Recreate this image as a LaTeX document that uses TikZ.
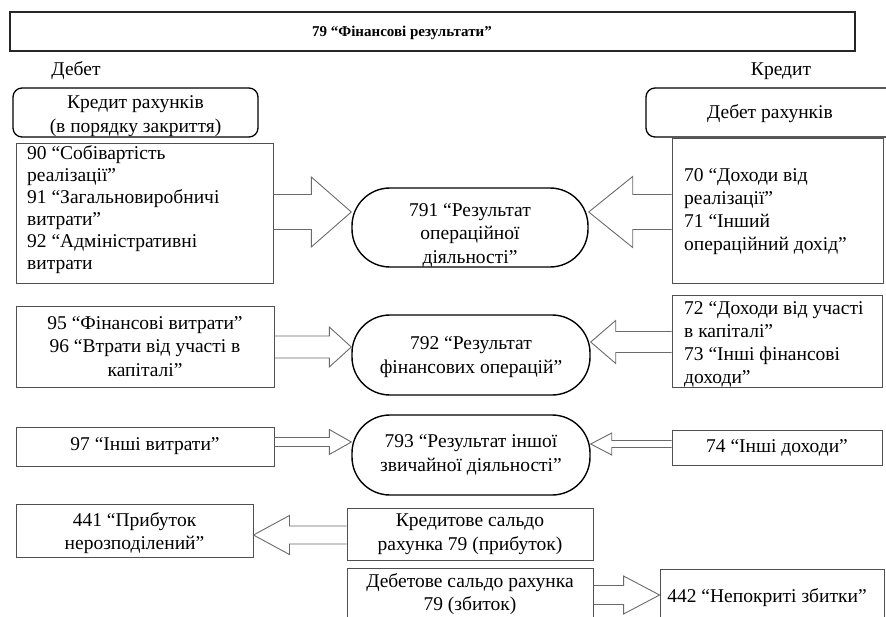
\documentclass[tikz,border=0pt]{standalone}
\usepackage{fontspec}
\setmainfont{Liberation Serif}
\usetikzlibrary{calc}
\definecolor{boxgray}{HTML}{505050}
\definecolor{arrgray}{HTML}{6A6A6A}
\tikzset{
  plainbox/.style={draw=boxgray, line width=0.9pt, rectangle, inner sep=0pt, align=center},
  roundbox/.style={draw=black, line width=1.3pt, rounded corners=9pt, inner sep=0pt, align=center},
  stadium/.style={draw=black, line width=1.4pt, rounded corners=38pt, inner sep=0pt, align=center},
  arrowline/.style={draw=arrgray, line width=0.9pt, line join=miter},
  txt/.style={inner sep=0pt, align=left, anchor=west},
  plaintxt/.style={inner sep=0pt, align=center},
}
% #1 tail point, #2 tip point, #3 shaft half width, #4 head half width, #5 signed head length
\newcommand{\blockarrow}[5]{%
  \draw[arrowline] let \p1=#1, \p2=#2 in
    ({\x1},{\y2+#3pt}) -- ({\x2-(#5pt)},{\y2+#3pt}) -- ({\x2-(#5pt)},{\y2+#4pt}) -- (\x2,\y2)
    -- ({\x2-(#5pt)},{\y2-#4pt}) -- ({\x2-(#5pt)},{\y2-#3pt}) -- ({\x1},{\y2-#3pt});
}
\begin{document}
\begin{tikzpicture}[x=1pt, y=-1pt, font=\fontsize{19.5}{23.5}\selectfont]
\useasboundingbox (0,0) rectangle (886,616);

% title
\node[plainbox, line width=1.5pt, draw=black!85, minimum width=845pt, minimum height=39pt] (title) at (432.5,31.5) {};
\node[plaintxt, font=\fontsize{15}{18}\selectfont\bfseries] (titlet) at (402,32.5) {79 “Фінансові результати”};

\node[plaintxt] (debet) at (76,71) {Дебет};
\node[plaintxt] (kredyt) at (781,71) {Кредит};

% header boxes
\node[roundbox, minimum width=245pt, minimum height=49pt] (hl) at (135.5,112.5) {};
\node[plaintxt] (hlt) at (135.5,116) {Кредит рахунків\\(в порядку закриття)};
\node[roundbox, minimum width=249pt, minimum height=49pt] (hr) at (770.5,112.5) {};
\node[plaintxt] (hrt) at (770,114) {Дебет рахунків};

% row 1
\node[plainbox, minimum width=257pt, minimum height=140pt] (b90) at (144.5,213) {};
\node[txt, font=\fontsize{19.5}{22}\selectfont] (b90t) at (27,210) {90 “Собівартість\\реалізації”\\91 “Загальновиробничі\\витрати”\\92 “Адміністративні\\витрати};
\node[plainbox, minimum width=211pt, minimum height=145pt] (b70) at (777.5,210.5) {};
\node[txt, font=\fontsize{19.5}{23}\selectfont] (b70t) at (684,212) {70 “Доходи від\\реалізації”\\71 “Інший\\операційний дохід”};
\node[stadium, minimum width=236pt, minimum height=79pt] (s791) at (470,227.5) {};
\node[plaintxt] (s791t) at (470,235) {791 “Результат\\операційної\\діяльності”};

% row 2
\node[plainbox, minimum width=258pt, minimum height=81pt] (b95) at (145,346.5) {95 “Фінансові витрати”\\96 “Втрати від участі в\\капіталі”};
\node[plainbox, minimum width=210pt, minimum height=92pt] (b72) at (777,341) {};
\node[txt, font=\fontsize{19.5}{23}\selectfont] (b72t) at (684,344) {72 “Доходи від участі\\в капіталі”\\73 “Інші фінансові\\доходи”};
\node[stadium, minimum width=238pt, minimum height=80pt] (s792) at (471,355) {};
\node[plaintxt] (s792t) at (471,357) {792 “Результат\\фінансових операцій”};

% row 3
\node[plainbox, minimum width=258pt, minimum height=39pt] (b97) at (145,446.5) {97 “Інші витрати”};
\node[plainbox, minimum width=210pt, minimum height=35pt] (b74) at (777,447.5) {74 “Інші доходи”};
\node[stadium, minimum width=238pt, minimum height=80pt] (s793) at (471,455) {793 “Результат іншої\\звичайної діяльності”};

% row 4
\node[plainbox, minimum width=237pt, minimum height=53pt] (b441) at (134.5,530.5) {};
\node[plaintxt] (b441t) at (134.5,533) {441 “Прибуток\\нерозподілений”};
\node[plainbox, minimum width=246pt, minimum height=52pt] (bkr) at (470,534) {Кредитове сальдо\\рахунка 79 (прибуток)};
\node[plainbox, minimum width=246pt, minimum height=54pt] (bdb) at (470,595) {};
\node[plaintxt] (bdbt) at (470,594) {Дебетове сальдо рахунка\\79 (збиток)};
\node[plainbox, minimum width=224pt, minimum height=56pt] (b442) at (772,597) {};
\node[plaintxt] (b442t) at (767,598) {442 “Непокриті збитки”};

% arrow levels
\coordinate (yA) at (0,212);
\coordinate (yB) at (0,347);
\coordinate (yC) at (0,342);
\coordinate (yD) at (0,442);
\coordinate (yE) at (0,444);
\coordinate (yF) at (0,535);
\coordinate (yG) at (0,595);

% block arrows
\blockarrow{(b90.east |- yA)}{(s791.west |- yA)}{17.5}{35}{40}
\blockarrow{(b70.west |- yA)}{(s791.east |- yA)}{17.5}{35.5}{-44}
\blockarrow{(b95.east |- yB)}{(s792.west |- yB)}{11}{20}{22}
\blockarrow{(b72.west |- yC)}{(s792.east |- yC)}{10.5}{21.5}{-25}
\blockarrow{(b97.east |- yD)}{(s793.west |- yD)}{4.5}{12.5}{22}
\blockarrow{(b74.west |- yE)}{(s793.east |- yE)}{3.5}{11}{-21}
\blockarrow{(bkr.west |- yF)}{(b441.east |- yF)}{9}{19.5}{-36}
\blockarrow{(bdb.east |- yG)}{(b442.west |- yG)}{9.5}{19}{36}
\end{tikzpicture}
\end{document}
